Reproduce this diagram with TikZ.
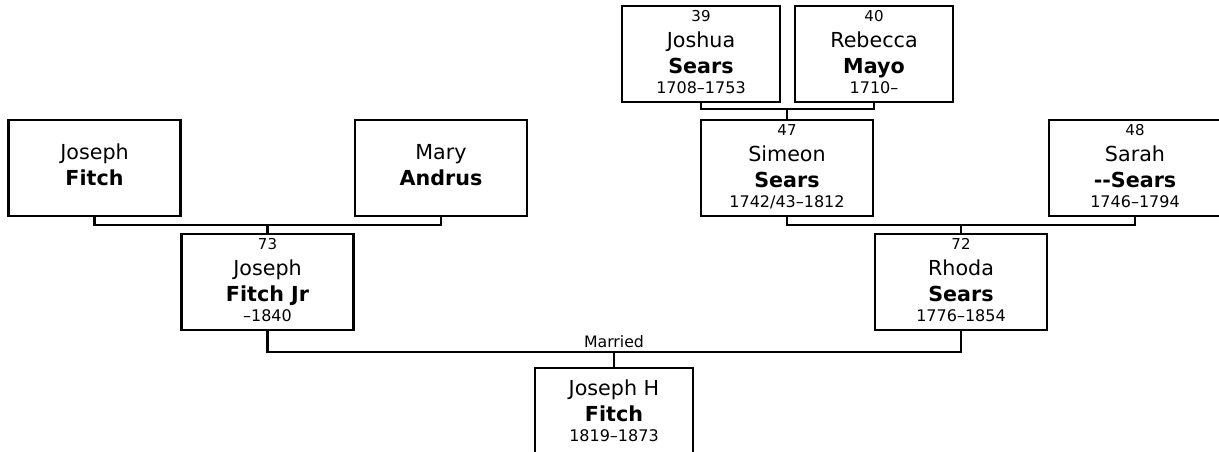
\documentclass[tikz,border=0pt]{standalone}
\usepackage{fontspec}
\setmainfont{DejaVu Sans}
\usetikzlibrary{positioning}
\tikzset{
  tree/.style={x=0.75pt, y=-0.75pt, every node/.style={inner sep=0pt}},
  pbox/.style={draw, rectangle, line width=1.6pt, align=center, minimum width=129pt, minimum height=72pt,
               font=\fontsize{15.5}{19.5}\selectfont, text height=65.5pt, text depth=6.5pt},
  slim/.style={minimum width=118.5pt},
  pair/.style={text height=49.3pt, text depth=22.7pt},
  trio/.style={text height=55.3pt, text depth=16.7pt},
  link/.style={draw, line width=1.6pt},
  tcap/.style={font=\fontsize{11.8}{14}\selectfont}
}
\newcommand{\pnum}[1]{{\fontsize{11.25}{19.5}\selectfont #1}}
\newcommand{\pdate}[1]{{\fontsize{12}{19.5}\selectfont #1}}
\newcommand{\person}[4]{\pnum{#1}\\ #2\\ \textbf{#3}\\[-4.5pt] \pdate{#4}}

\begin{document}
\begin{tikzpicture}[tree]
\clip (0,0) rectangle (1219,451);
% great-grandparents
\node[pbox, slim] (joshua) at (701,54) {\person{39}{Joshua}{Sears}{1708--1753}};
\node[pbox, slim] (rebecca) at (874,54) {\person{40}{Rebecca}{Mayo}{1710--}};
% grandparents
\node[pbox, pair] (josephsr) at (94.5,168) {Joseph\\ \textbf{Fitch}};
\node[pbox, pair] (mary) at (441,168) {Mary\\ \textbf{Andrus}};
\node[pbox] (simeon) at (787,168) {\person{47}{Simeon}{Sears}{1742/43--1812}};
\node[pbox] (sarah) at (1135,168) {\person{48}{Sarah}{\mbox{-}\mbox{-}Sears}{1746--1794}};
% parents
\node[pbox] (fitchjr) at (267.5,282) {\person{73}{Joseph}{Fitch Jr}{--1840}};
\node[pbox] (rhoda) at (961,282) {\person{72}{Rhoda}{Sears}{1776--1854}};
% child
\node[pbox, slim, trio] (josephh) at (614,416) {Joseph H\\ \textbf{Fitch}\\[-4.5pt] \pdate{1819--1873}};
% couples
\coordinate (j1) at (simeon.north |- 0,109);
\coordinate (j2) at (fitchjr.north |- 0,225);
\coordinate (j3) at (rhoda.north |- 0,225);
\coordinate (mj) at (josephh.north |- 0,352);
\draw[link] (joshua.south) |- (j1) -| (rebecca.south); \draw[link] (j1) -- (simeon.north);
\draw[link] (josephsr.south) |- (j2) -| (mary.south); \draw[link] (j2) -- (fitchjr.north);
\draw[link] (simeon.south) |- (j3) -| (sarah.south); \draw[link] (j3) -- (rhoda.north);
\draw[link] (fitchjr.south) |- (mj) -| (rhoda.south); \draw[link] (mj) -- (josephh.north);
\node[tcap, above=3pt of mj] (married) {Married};
\end{tikzpicture}
\end{document}
